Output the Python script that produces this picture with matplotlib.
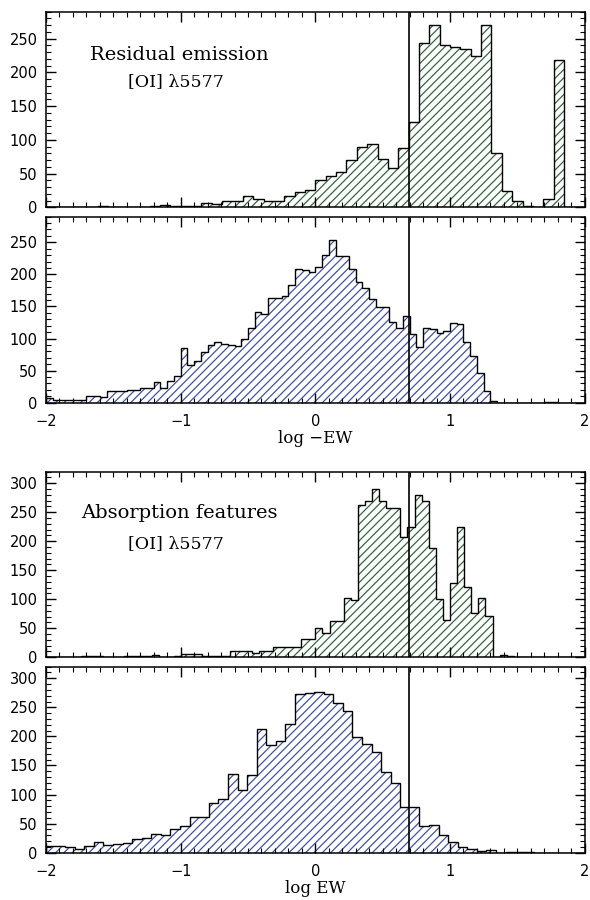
import numpy as np
import matplotlib
matplotlib.use('Agg')
import matplotlib.pyplot as plt
from matplotlib.ticker import MultipleLocator

# ---- data ---------------------------------------------------------------
# each histogram: first bin edge, bin width, counts per bin
emis_sel_lo, emis_sel_w = -2.0, 4.0 / 52
emis_sel = [0, 0, 0, 0, 1, 2, 1, 1, 1, 0,
            2, 3, 2, 2, 2, 7, 5, 9, 9, 17,
            12, 10, 10, 17, 23, 25, 40, 46, 53, 70,
            89, 94, 72, 58, 88, 127, 244, 270, 240, 237,
            235, 224, 271, 81, 24, 10, 2, 0, 13, 219,
            1, 0]

emis_all_lo, emis_all_w = -2.0, 0.05
emis_all = [7, 4, 4, 4, 4, 4, 11, 11, 9, 18,
            18, 18, 20, 20, 23, 23, 32, 23, 33, 41,
            85, 58, 65, 79, 90, 94, 92, 90, 88, 99,
            117, 141, 138, 163, 163, 167, 183, 209, 207, 204,
            211, 230, 254, 228, 228, 209, 188, 178, 162, 149,
            149, 126, 116, 135, 107, 87, 116, 115, 109, 112,
            124, 122, 95, 73, 47, 18, 3, 0, 0, 0,
            0, 0, 0, 0, 1, 1, 0, 0, 0, 0]

abs_sel_lo, abs_sel_w = -2.0, 4.0 / 76
abs_sel = [1, 1, 1, 1, 1, 2, 2, 3, 1, 1,
           1, 2, 2, 2, 3, 4, 1, 1, 2, 6,
           6, 6, 3, 3, 3, 3, 10, 11, 11, 7,
           10, 10, 17, 17, 17, 18, 31, 31, 50, 42,
           62, 62, 103, 98, 263, 269, 290, 269, 257, 257,
           207, 224, 280, 269, 188, 100, 65, 128, 225, 122,
           76, 102, 72, 0, 4, 3, 1, 1, 0, 0,
           0, 0, 0, 0, 0, 0]

abs_all_lo, abs_all_w = -2.0, 0.0711
abs_all = [11, 11, 9, 7, 11, 18, 13, 15, 17,
           23, 26, 32, 31, 40, 46, 61, 61, 86, 93,
           136, 107, 134, 213, 186, 192, 221,
           273, 274, 276, 273, 257, 243, 199, 187, 173, 139,
           119, 79, 79, 45, 47, 30, 19, 10, 7, 3,
           5, 0, 1, 1, 1, 0, 0, 0, 0, 0, 0]

ew_cut = np.log10(5.0)   # vertical marker

GREEN = '#35663e'
BLUE = '#4252a6'
SERIF = 'DejaVu Serif'

plt.rcParams['hatch.linewidth'] = 0.9
plt.rcParams['font.family'] = 'DejaVu Sans'


def draw_hist(ax, lo, w, counts, color, ymax):
    counts = np.asarray(counts, dtype=float)
    edges = lo + w * np.arange(len(counts) + 1)
    ax.stairs(counts, edges, fill=True, facecolor='none', edgecolor=color,
              hatch='////', linewidth=0)
    ax.stairs(counts, edges, color='black', linewidth=1.0, baseline=0)
    ax.axvline(ew_cut, color='black', linewidth=1.2)
    ax.set_xlim(-2, 2)
    ax.set_ylim(0, ymax)
    ax.xaxis.set_major_locator(MultipleLocator(1))
    ax.xaxis.set_minor_locator(MultipleLocator(0.1))
    ax.yaxis.set_major_locator(MultipleLocator(50))
    ax.yaxis.set_minor_locator(MultipleLocator(10))
    ax.tick_params(which='both', direction='in', top=True, right=True,
                   labelsize=10.5)
    ax.tick_params(which='major', length=7, width=1.0, pad=6)
    ax.tick_params(which='minor', length=3.5, width=0.8)
    ax.tick_params(axis='x', pad=8)
    for s in ax.spines.values():
        s.set_linewidth(1.1)


fig = plt.figure(figsize=(5.9, 9.0), dpi=100)
left, width = 0.078, 0.913
ax1 = fig.add_axes([left, 0.7697, width, 0.2173])
ax2 = fig.add_axes([left, 0.5526, width, 0.2067])
ax3 = fig.add_axes([left, 0.2697, width, 0.2062])
ax4 = fig.add_axes([left, 0.0526, width, 0.2067])

draw_hist(ax1, emis_sel_lo, emis_sel_w, emis_sel, GREEN, 290)
draw_hist(ax2, emis_all_lo, emis_all_w, emis_all, BLUE, 290)
draw_hist(ax3, abs_sel_lo, abs_sel_w, abs_sel, GREEN, 320)
draw_hist(ax4, abs_all_lo, abs_all_w, abs_all, BLUE, 320)

for ax in (ax1, ax3):
    ax.tick_params(labelbottom=False)

ax2.set_xlabel('log \u2212EW', family=SERIF, fontsize=12, labelpad=1)
ax4.set_xlabel('log EW', family=SERIF, fontsize=12, labelpad=1)

ax1.text(0.248, 0.78, 'Residual emission', transform=ax1.transAxes,
         ha='center', va='center', family=SERIF, fontsize=14)
ax1.text(0.242, 0.645, '[OI] \u03bb5577', transform=ax1.transAxes,
         ha='center', va='center', family=SERIF, fontsize=12.5)
ax3.text(0.248, 0.775, 'Absorption features', transform=ax3.transAxes,
         ha='center', va='center', family=SERIF, fontsize=14)
ax3.text(0.242, 0.615, '[OI] \u03bb5577', transform=ax3.transAxes,
         ha='center', va='center', family=SERIF, fontsize=12.5)

fig.savefig('out.png', dpi=100)
